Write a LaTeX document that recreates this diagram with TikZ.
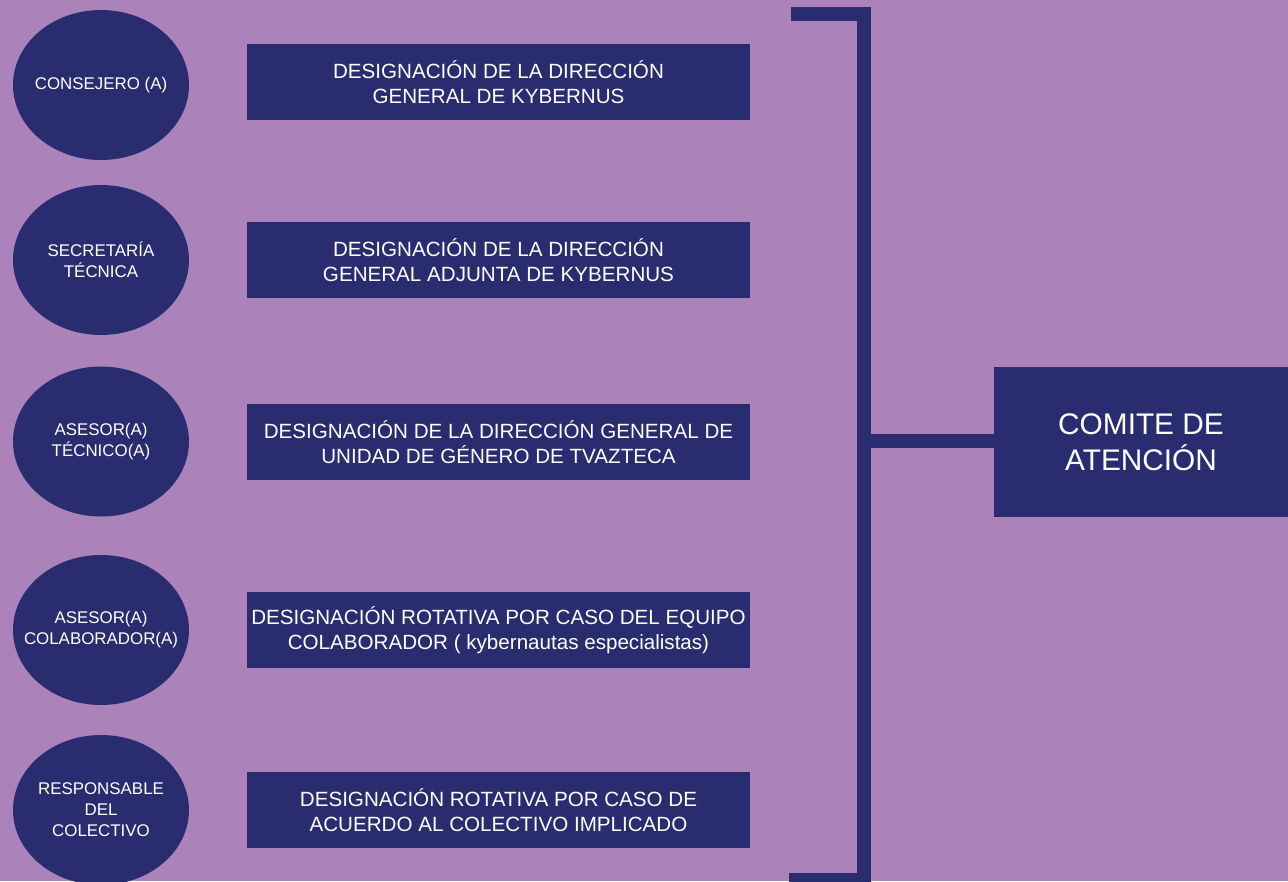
\documentclass[tikz,border=0pt]{standalone}
\usepackage{fontspec}
\setmainfont{Liberation Sans}
\usetikzlibrary{shapes.geometric}
\definecolor{bgpurple}{RGB}{171,130,186}
\definecolor{navy}{RGB}{41,45,112}
\tikzset{
  role/.style={ellipse, fill=navy, minimum width=176pt, minimum height=150pt, inner sep=0pt},
  roletext/.style={text=white, align=center, inner sep=0pt, font=\fontsize{16.9}{21}\selectfont},
  desig/.style={rectangle, fill=navy, text=white, minimum width=503pt, minimum height=76pt, inner sep=0pt, align=center, font=\fontsize{20.6}{25}\selectfont},
  comite/.style={rectangle, fill=navy, text=white, minimum width=294pt, minimum height=150pt, inner sep=0pt, align=center, font=\fontsize{29.8}{36}\selectfont},
  bracket/.style={draw=navy, line width=14pt}
}
\begin{document}
\begin{tikzpicture}[x=1pt,y=-1pt]
\useasboundingbox (0,0) rectangle (1288,881);
\fill[bgpurple] (0,0) rectangle (1288,881);
% roles
\node[role, label={[roletext]center:CONSEJERO (A)}] (r1) at (101,85) {};
\node[role, label={[roletext]center:SECRETARÍA\\TÉCNICA}] (r2) at (101,260) {};
\node[role, label={[roletext]center:ASESOR(A)\\TÉCNICO(A)}] (r3) at (101,441.5) {};
\node[role, label={[roletext]center:ASESOR(A)\\COLABORADOR(A)}] (r4) at (101,630) {};
\node[role, label={[roletext]center:RESPONSABLE\\DEL\\COLECTIVO}] (r5) at (101,810) {};
% designations
\node[desig] (d1) at (498.5,82) {DESIGNACIÓN DE LA DIRECCIÓN\\GENERAL DE KYBERNUS};
\node[desig] (d2) at (498.5,260) {DESIGNACIÓN DE LA DIRECCIÓN\\GENERAL ADJUNTA DE KYBERNUS};
\node[desig] (d3) at (498.5,442) {DESIGNACIÓN DE LA DIRECCIÓN GENERAL DE\\UNIDAD DE GÉNERO DE TVAZTECA};
\node[desig] (d4) at (498.5,630) {DESIGNACIÓN ROTATIVA POR CASO DEL EQUIPO\\COLABORADOR ( kybernautas especialistas)};
\node[desig] (d5) at (498.5,810) {DESIGNACIÓN ROTATIVA POR CASO DE\\ACUERDO AL COLECTIVO IMPLICADO};
% comite
\node[comite] (c) at (1141,442) {COMITE DE\\ATENCIÓN};
% bracket
\coordinate (bt) at (791,14);
\coordinate (bc) at (864,14);
\coordinate (bb) at (864,880);
\coordinate (be) at (789,880);
\coordinate (bm) at (864,441);
\draw[bracket] (bt) -- (bc) -- (bb) -- (be);
\draw[bracket] (bm) -- (c.west |- bm);
\end{tikzpicture}
\end{document}
